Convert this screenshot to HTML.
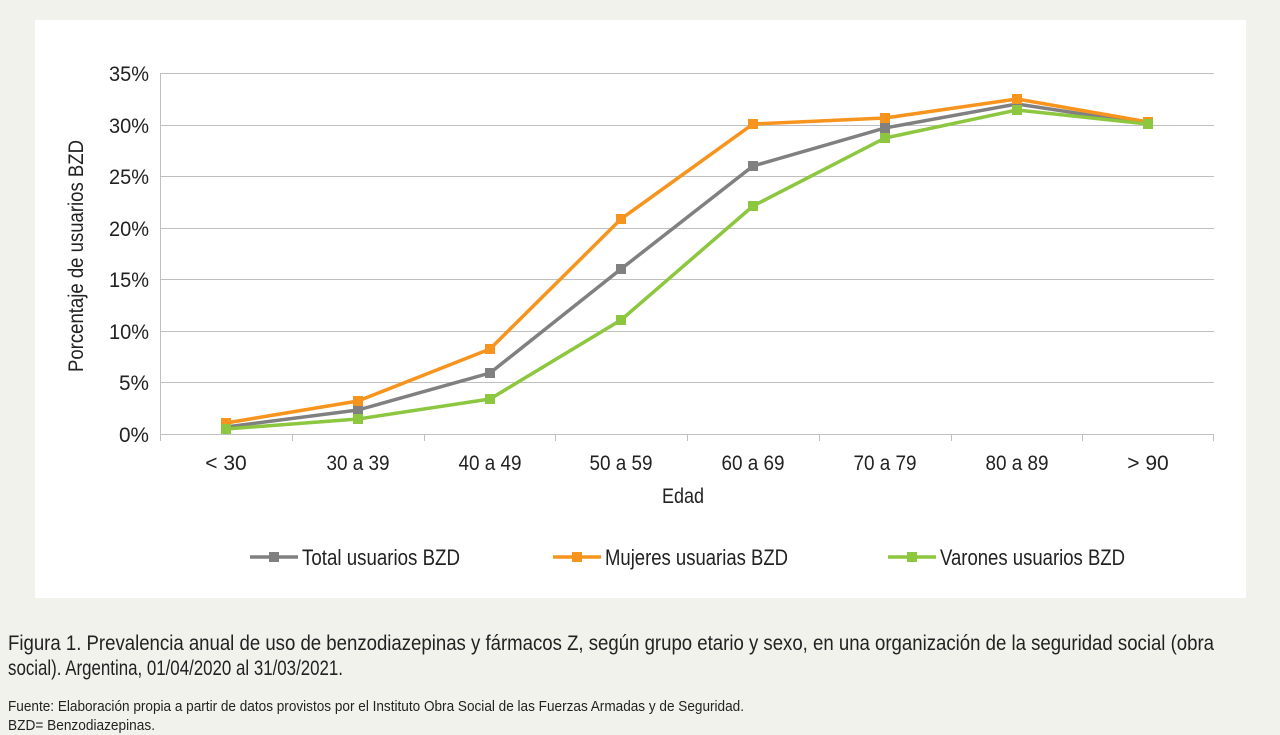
<!DOCTYPE html>
<html><head><meta charset="utf-8"><style>
html,body{margin:0;padding:0;background:#f2f2ed;}
svg{display:block;font-family:"Liberation Sans Narrow","Liberation Sans",sans-serif;}
</style></head><body>
<svg width="1280" height="735" viewBox="0 0 1280 735" xmlns="http://www.w3.org/2000/svg">
<rect x="0" y="0" width="1280" height="735" fill="#f2f2ed"/>
<rect x="35" y="20" width="1211" height="578" fill="#ffffff"/>
<g stroke="#bfbfbf" stroke-width="1">
<line x1="160" y1="73.5" x2="1214" y2="73.5"/>
<line x1="160" y1="125.5" x2="1214" y2="125.5"/>
<line x1="160" y1="176.5" x2="1214" y2="176.5"/>
<line x1="160" y1="228.5" x2="1214" y2="228.5"/>
<line x1="160" y1="279.5" x2="1214" y2="279.5"/>
<line x1="160" y1="331.5" x2="1214" y2="331.5"/>
<line x1="160" y1="382.5" x2="1214" y2="382.5"/>
<line x1="160" y1="434.5" x2="1214" y2="434.5"/>
<line x1="160.5" y1="73" x2="160.5" y2="441"/>
<line x1="292.5" y1="434" x2="292.5" y2="441"/>
<line x1="424.5" y1="434" x2="424.5" y2="441"/>
<line x1="555.5" y1="434" x2="555.5" y2="441"/>
<line x1="687.5" y1="434" x2="687.5" y2="441"/>
<line x1="819.5" y1="434" x2="819.5" y2="441"/>
<line x1="951.5" y1="434" x2="951.5" y2="441"/>
<line x1="1082.5" y1="434" x2="1082.5" y2="441"/>
<line x1="1213.5" y1="434" x2="1213.5" y2="441"/>
</g>
<g font-size="21" fill="#222" text-anchor="end">
<text x="149" y="81" textLength="40" lengthAdjust="spacingAndGlyphs">35%</text><text x="149" y="133" textLength="40" lengthAdjust="spacingAndGlyphs">30%</text><text x="149" y="184" textLength="40" lengthAdjust="spacingAndGlyphs">25%</text>
<text x="149" y="236" textLength="40" lengthAdjust="spacingAndGlyphs">20%</text><text x="149" y="287" textLength="40" lengthAdjust="spacingAndGlyphs">15%</text><text x="149" y="339" textLength="40" lengthAdjust="spacingAndGlyphs">10%</text>
<text x="149" y="390" textLength="30" lengthAdjust="spacingAndGlyphs">5%</text><text x="149" y="442" textLength="30" lengthAdjust="spacingAndGlyphs">0%</text>
</g>
<g font-size="21" fill="#222" text-anchor="middle">
<text x="226" y="470">&lt; 30</text>
<text x="358" y="470" textLength="63" lengthAdjust="spacingAndGlyphs">30 a 39</text>
<text x="490" y="470" textLength="63" lengthAdjust="spacingAndGlyphs">40 a 49</text>
<text x="621" y="470" textLength="63" lengthAdjust="spacingAndGlyphs">50 a 59</text>
<text x="753" y="470" textLength="63" lengthAdjust="spacingAndGlyphs">60 a 69</text>
<text x="885" y="470" textLength="63" lengthAdjust="spacingAndGlyphs">70 a 79</text>
<text x="1017" y="470" textLength="63" lengthAdjust="spacingAndGlyphs">80 a 89</text>
<text x="1148" y="470">&gt; 90</text>
<text x="683" y="503" textLength="42" lengthAdjust="spacingAndGlyphs">Edad</text>
<text transform="translate(83,256) rotate(-90)" textLength="232" lengthAdjust="spacingAndGlyphs">Porcentaje de usuarios BZD</text>
</g>
<g fill="none" stroke-width="3.5" stroke-linejoin="round">
<polyline stroke="#808080" points="226,427 358,410 490,373 621,269 753,166 885,128 1017,104 1148,124"/>
<polyline stroke="#f7941d" points="226,423 358,401 490,349 621,219 753,124 885,118 1017,99 1148,122"/>
<polyline stroke="#8dc63f" points="226,429 358,419 490,399 621,320 753,206 885,138 1017,110 1148,124"/>
</g>
<g fill="#808080"><rect x="221" y="422" width="10" height="10"/><rect x="353" y="405" width="10" height="10"/><rect x="485" y="368" width="10" height="10"/><rect x="616" y="264" width="10" height="10"/><rect x="748" y="161" width="10" height="10"/><rect x="880" y="123" width="10" height="10"/><rect x="1012" y="99" width="10" height="10"/><rect x="1143" y="119" width="10" height="10"/></g>
<g fill="#f7941d"><rect x="221" y="418" width="10" height="10"/><rect x="353" y="396" width="10" height="10"/><rect x="485" y="344" width="10" height="10"/><rect x="616" y="214" width="10" height="10"/><rect x="748" y="119" width="10" height="10"/><rect x="880" y="113" width="10" height="10"/><rect x="1012" y="94" width="10" height="10"/><rect x="1143" y="117" width="10" height="10"/></g>
<g fill="#8dc63f"><rect x="221" y="424" width="10" height="10"/><rect x="353" y="414" width="10" height="10"/><rect x="485" y="394" width="10" height="10"/><rect x="616" y="315" width="10" height="10"/><rect x="748" y="201" width="10" height="10"/><rect x="880" y="133" width="10" height="10"/><rect x="1012" y="105" width="10" height="10"/><rect x="1143" y="119" width="10" height="10"/></g>
<g stroke-width="3.5">
<line x1="250" y1="557" x2="298" y2="557" stroke="#808080"/><rect x="269" y="552" width="10" height="10" fill="#808080"/>
<line x1="553" y1="557" x2="601" y2="557" stroke="#f7941d"/><rect x="572" y="552" width="10" height="10" fill="#f7941d"/>
<line x1="888" y1="557" x2="936" y2="557" stroke="#8dc63f"/><rect x="907" y="552" width="10" height="10" fill="#8dc63f"/>
</g>
<g font-size="22" fill="#222">
<text x="302" y="565" textLength="158" lengthAdjust="spacingAndGlyphs">Total usuarios BZD</text>
<text x="605" y="565" textLength="183" lengthAdjust="spacingAndGlyphs">Mujeres usuarias BZD</text>
<text x="940" y="565" textLength="185" lengthAdjust="spacingAndGlyphs">Varones usuarios BZD</text>
</g>
<g fill="#222">
<text x="8" y="650" font-size="21" textLength="1206" lengthAdjust="spacingAndGlyphs">Figura 1. Prevalencia anual de uso de benzodiazepinas y fármacos Z, según grupo etario y sexo, en una organización de la seguridad social (obra</text>
<text x="8" y="675" font-size="21" textLength="335" lengthAdjust="spacingAndGlyphs">social). Argentina, 01/04/2020 al 31/03/2021.</text>
<text x="8" y="711" font-size="15" textLength="736" lengthAdjust="spacingAndGlyphs">Fuente: Elaboración propia a partir de datos provistos por el Instituto Obra Social de las Fuerzas Armadas y de Seguridad.</text>
<text x="8" y="730" font-size="15" textLength="147" lengthAdjust="spacingAndGlyphs">BZD= Benzodiazepinas.</text>
</g>
</svg>
</body></html>
